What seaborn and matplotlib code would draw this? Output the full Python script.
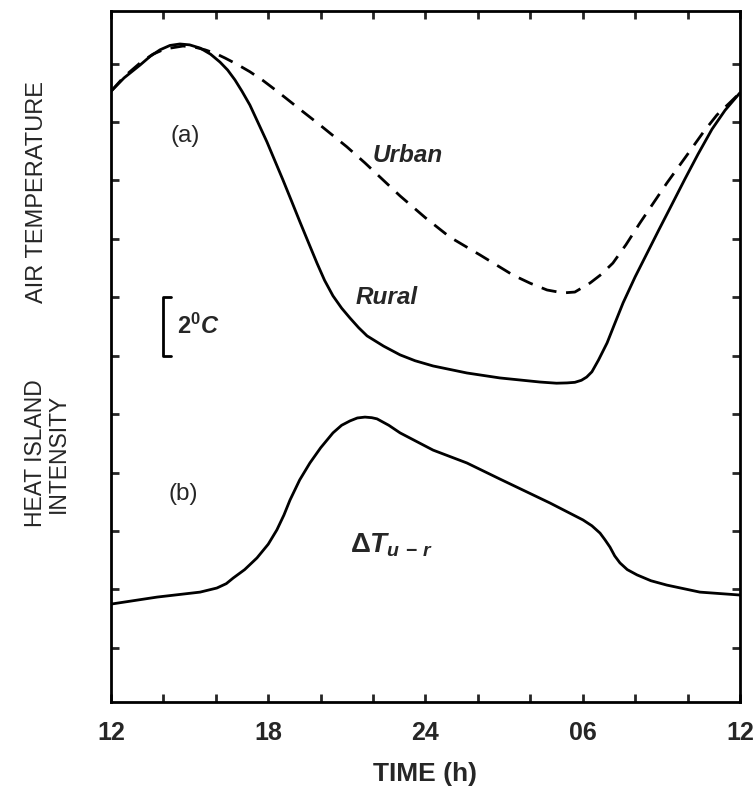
import matplotlib
matplotlib.use('Agg')
import matplotlib.pyplot as plt
import seaborn as sns
from matplotlib.ticker import FixedLocator

# Values (time in hours from noon, temperature in deg C, arbitrary offset)
hours_rural = [12.00, 12.50, 13.11, 13.50, 13.87, 14.25, 14.63, 15.00, 15.40, 15.80, 16.16, 16.45,
               16.73, 17.00, 17.30, 17.60, 17.95, 18.25, 18.56, 18.90, 19.21, 19.55, 19.86, 20.15,
               20.47, 20.80, 21.12, 21.45, 21.77, 22.40, 23.03, 23.60, 24.29, 25.58, 26.84, 28.37,
               29.00, 29.40, 29.70, 29.95, 30.15, 30.35, 30.60, 30.93, 31.20, 31.54, 32.00, 32.45,
               32.90, 33.33, 33.90, 34.40, 34.93, 35.43, 36.00]
temp_rural = [21.05, 21.51, 21.95, 22.25, 22.47, 22.62, 22.67, 22.64, 22.53, 22.32, 22.05, 21.78,
              21.44, 21.05, 20.58, 20.00, 19.32, 18.68, 18.02, 17.27, 16.58, 15.84, 15.17, 14.58,
              14.05, 13.63, 13.29, 12.96, 12.68, 12.33, 12.03, 11.83, 11.65, 11.41, 11.24, 11.10,
              11.06, 11.07, 11.09, 11.16, 11.27, 11.45, 11.85, 12.44, 13.05, 13.81, 14.70, 15.50,
              16.30, 17.05, 18.05, 18.90, 19.75, 20.40, 21.00]

hours_urban = [12.00, 12.50, 13.11, 13.60, 14.06, 14.75, 15.20, 15.59, 16.00, 16.35, 16.80, 17.30,
               17.80, 18.30, 18.64, 19.30, 19.97, 21.00, 21.69, 23.03, 24.00, 24.93, 26.08, 27.34,
               28.00, 28.64, 29.25, 29.70, 30.28, 30.70, 31.15, 31.65, 32.18, 33.21, 33.98, 34.60,
               35.12, 35.60, 36.00]
temp_urban = [21.05, 21.55, 22.02, 22.32, 22.50, 22.60, 22.56, 22.47, 22.34, 22.19, 21.98, 21.72,
              21.42, 21.08, 20.84, 20.37, 19.90, 19.15, 18.60, 17.47, 16.72, 16.06, 15.45, 14.76,
              14.48, 14.25, 14.15, 14.18, 14.49, 14.78, 15.17, 15.80, 16.54, 17.91, 18.87, 19.65,
              20.24, 20.65, 21.00]

hours_delta = [12.00, 13.76, 15.40, 16.04, 16.40, 16.66, 17.10, 17.57, 18.00, 18.33, 18.60, 18.83,
               19.20, 19.59, 20.00, 20.47, 20.80, 21.12, 21.40, 21.69, 21.95, 22.15, 22.60, 23.03,
               24.29, 25.58, 26.84, 28.75, 30.01, 30.35, 30.66, 30.85, 31.04, 31.22, 31.42, 31.70,
               32.07, 32.60, 33.21, 34.47, 36.00]
temp_delta = [3.50, 3.74, 3.91, 4.05, 4.20, 4.39, 4.68, 5.08, 5.55, 6.04, 6.55, 7.06,
              7.75, 8.33, 8.85, 9.36, 9.62, 9.77, 9.87, 9.90, 9.88, 9.84, 9.62, 9.36,
              8.77, 8.33, 7.78, 6.96, 6.38, 6.18, 5.93, 5.70, 5.45, 5.15, 4.91, 4.68,
              4.50, 4.30, 4.15, 3.91, 3.81]

time_ticks = [12, 18, 24, 30, 36]
time_labels = ['12', '18', '24', '06', '12']
scale_bar = [12, 14]  # 2 deg C

sns.set_style('ticks')
plt.rcParams['font.family'] = ['Liberation Sans', 'DejaVu Sans']
plt.rcParams['mathtext.fontset'] = 'custom'
plt.rcParams['mathtext.rm'] = 'Liberation Sans:bold'
plt.rcParams['mathtext.bf'] = 'Liberation Sans:bold'
plt.rcParams['mathtext.it'] = 'Liberation Sans:italic:bold'

fig = plt.figure(figsize=(7.54, 7.89), dpi=100)
ax = fig.add_axes([0.1472, 0.1103, 0.8342, 0.8758])

sns.lineplot(x=hours_rural, y=temp_rural, ax=ax, color='black', lw=2.0,
             estimator=None, sort=False)
sns.lineplot(x=hours_urban, y=temp_urban, ax=ax, color='black', lw=2.0,
             linestyle=(0, (5.5, 3.5)), estimator=None, sort=False)
sns.lineplot(x=hours_delta, y=temp_delta, ax=ax, color='black', lw=2.0,
             estimator=None, sort=False)

ax.set_xlim(12, 36)
ax.set_ylim(0.15, 23.8)
ax.xaxis.set_major_locator(FixedLocator(time_ticks))
ax.xaxis.set_minor_locator(FixedLocator(range(14, 36, 2)))
ax.set_xticklabels(time_labels, fontsize=18, fontweight='bold')
ax.yaxis.set_major_locator(FixedLocator(range(2, 24, 2)))
ax.set_yticklabels([])
ax.tick_params(which='both', direction='in', length=6, width=2, top=True, right=True, pad=14)
for sp in ax.spines.values():
    sp.set_linewidth(2)
    sp.set_color('black')

ax.set_xlabel('TIME (h)', fontsize=19, fontweight='bold', labelpad=12)

# vertical axis titles
fig.text(37 / 754, 1 - 192 / 789, 'AIR TEMPERATURE', rotation=90, fontsize=17,
         ha='center', va='center')
fig.text(47 / 754, 1 - 453 / 789, 'HEAT ISLAND\nINTENSITY', rotation=90, fontsize=16.5,
         ha='center', va='center', linespacing=0.95)

# panel labels and curve labels
ax.text(14.82, 19.52, '(a)', fontsize=17.5, ha='center', va='center')
ax.text(14.75, 7.27, '(b)', fontsize=17.5, ha='center', va='center')
ax.text(23.33, 18.87, 'Urban', fontsize=17.5, fontweight='bold', style='italic',
        ha='center', va='center')
ax.text(22.53, 13.98, 'Rural', fontsize=17.5, fontweight='bold', style='italic',
        ha='center', va='center')
ax.text(22.72, 5.52, r'$\mathbf{\Delta}\mathit{T_{u\,-\,r}}$', fontsize=20,
        ha='center', va='center')

# 2 deg C scale bracket
ax.plot([14.3, 13.98, 13.98, 14.3], [scale_bar[1], scale_bar[1], scale_bar[0], scale_bar[0]],
        color='black', lw=2)
ax.text(14.5, sum(scale_bar) / 2, r'$\mathit{2^{0}C}$', fontsize=17, ha='left', va='center')

fig.savefig('out.png', dpi=100)
